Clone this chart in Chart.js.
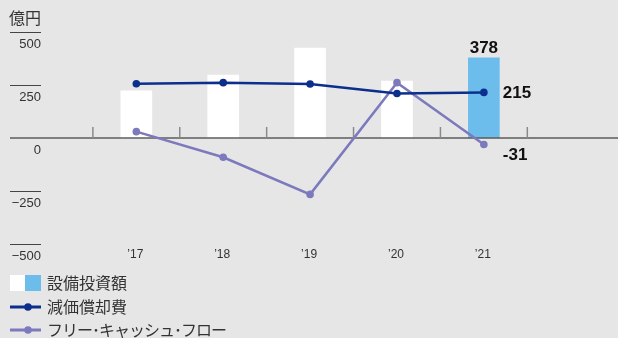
<!DOCTYPE html>
<html>
<head>
<meta charset="utf-8">
<script src="https://cdn.jsdelivr.net/npm/chart.js@4.4.1/dist/chart.umd.min.js"></script>
<style>
  html, body { margin: 0; padding: 0; background: #e6e6e6; }
  #wrap { width: 618px; height: 338px; position: relative; }
  canvas { display: block; }
</style>
</head>
<body>
<div id="wrap"><canvas id="c" width="618" height="338"></canvas></div>
<script>
// ---- data ----
const years = ['’17', '’18', '’19', '’20', '’21'];
const capex = [222, 297, 424, 269, 378];          // 設備投資額
const depreciation = [256, 261, 255, 210, 215];   // 減価償却費
const freeCashFlow = [30, -91, -266, 261, -31];   // フリー・キャッシュ・フロー
const yTicks = [500, 250, 0, -250, -500];
const yTickLabels = ['500', '250', '0', '−250', '−500'];
const unitLabel = '億円';
const legendLabels = ['設備投資額', '減価償却費', 'フリー･キャッシュ･フロー'];

// ---- build ----
const labels = ['', ...years, ''];
const pad = arr => [null, ...arr, null];
const lastIdx = years.length; // index of '21 within padded labels

const WHITE = '#ffffff', BLUE = '#6cbdec', NAVY = '#0c2f8e', PURPLE = '#7c7abd';
const TXT = '#333333';
const LATIN = '"Liberation Sans", Arial, sans-serif';
const CJK = '"Noto Sans CJK JP", "Noto Sans", sans-serif';

function line(ctx, x1, y1, x2, y2) { ctx.beginPath(); ctx.moveTo(x1, y1); ctx.lineTo(x2, y2); ctx.stroke(); }

const deco = {
  id: 'deco',
  beforeDatasetsDraw(chart) {
    const { ctx, scales: { x, y } } = chart;
    ctx.save();
    ctx.font = '13px ' + LATIN;
    ctx.fillStyle = TXT;
    ctx.textAlign = 'right';
    ctx.textBaseline = 'middle';
    yTicks.forEach((v, i) => {
      const py = y.getPixelForValue(v);
      if (v !== 0) {
        ctx.strokeStyle = '#444';
        ctx.lineWidth = 1;
        line(ctx, 10, Math.round(py) + 0.5, 41, Math.round(py) + 0.5);
      }
      ctx.fillText(yTickLabels[i], 41, py + 12);
    });
    ctx.font = '16px ' + CJK;
    ctx.textAlign = 'left';
    ctx.fillText(unitLabel, 9, 18);
    ctx.font = '12px ' + LATIN;
    ctx.textAlign = 'center';
    years.forEach((lab, i) => {
      ctx.fillText(lab, x.getPixelForValue(i + 1) - 1, 255);
    });
    ctx.restore();
  },
  afterDatasetDraw(chart, args) {
    if (args.meta.type !== 'bar') return;
    const { ctx, scales: { x, y } } = chart;
    const y0 = y.getPixelForValue(0);
    ctx.save();
    ctx.strokeStyle = '#5c5c5c';
    ctx.lineWidth = 1.6;
    line(ctx, 10, y0, 618, y0);
    ctx.strokeStyle = '#8a8a8a';
    ctx.lineWidth = 1.5;
    for (let i = 1; i < labels.length; i++) {
      const bx = (x.getPixelForValue(i - 1) + x.getPixelForValue(i)) / 2;
      line(ctx, bx, y0 - 11, bx, y0);
    }
    ctx.restore();
  },
  afterDatasetsDraw(chart) {
    const { ctx } = chart;
    ctx.save();
    ctx.font = 'bold 17px ' + LATIN;
    ctx.fillStyle = '#111';
    const bar = chart.getDatasetMeta(0).data[lastIdx];
    ctx.textAlign = 'center';
    ctx.textBaseline = 'alphabetic';
    ctx.fillText(String(capex[capex.length - 1]), bar.x, bar.y - 5);
    const dep = chart.getDatasetMeta(2).data[lastIdx];
    ctx.textAlign = 'left';
    ctx.textBaseline = 'middle';
    ctx.fillText(String(depreciation[depreciation.length - 1]), dep.x + 19, dep.y + 1);
    const fcf = chart.getDatasetMeta(1).data[lastIdx];
    ctx.fillText(String(freeCashFlow[freeCashFlow.length - 1]), fcf.x + 19, fcf.y + 11);

    // legend
    const lx = 10;
    const rows = [283, 307, 330];
    ctx.fillStyle = WHITE; ctx.fillRect(lx, 275, 15, 16);
    ctx.fillStyle = BLUE; ctx.fillRect(lx + 15, 275, 16, 16);
    ctx.lineWidth = 3;
    ctx.strokeStyle = NAVY; line(ctx, lx, rows[1], lx + 31, rows[1]);
    ctx.fillStyle = NAVY; ctx.beginPath(); ctx.arc(lx + 18, rows[1], 3.8, 0, Math.PI * 2); ctx.fill();
    ctx.strokeStyle = PURPLE; line(ctx, lx, rows[2], lx + 31, rows[2]);
    ctx.fillStyle = PURPLE; ctx.beginPath(); ctx.arc(lx + 18, rows[2], 3.8, 0, Math.PI * 2); ctx.fill();
    ctx.font = '16px ' + CJK;
    ctx.fillStyle = TXT;
    ctx.textAlign = 'left';
    ctx.textBaseline = 'middle';
    legendLabels.forEach((t, i) => {
      ctx.letterSpacing = i === 2 ? '-1px' : '0px';
      ctx.fillText(t, 47, rows[i]);
    });
    ctx.letterSpacing = '0px';
    ctx.restore();
  }
};

new Chart(document.getElementById('c'), {
  type: 'bar',
  data: {
    labels: labels,
    datasets: [
      {
        type: 'bar',
        label: legendLabels[0],
        data: pad(capex),
        backgroundColor: labels.map((_, i) => i === lastIdx ? BLUE : WHITE),
        borderWidth: 0,
        barThickness: 31,
        order: 3
      },
      {
        type: 'line',
        label: legendLabels[2],
        data: pad(freeCashFlow),
        borderColor: PURPLE,
        backgroundColor: PURPLE,
        borderWidth: 2.5,
        pointRadius: 3.8,
        pointHoverRadius: 3.8,
        pointBorderWidth: 0,
        tension: 0,
        order: 2
      },
      {
        type: 'line',
        label: legendLabels[1],
        data: pad(depreciation),
        borderColor: NAVY,
        backgroundColor: NAVY,
        borderWidth: 2.5,
        pointRadius: 3.8,
        pointHoverRadius: 3.8,
        pointBorderWidth: 0,
        tension: 0,
        order: 1
      }
    ]
  },
  options: {
    responsive: false,
    animation: false,
    events: [],
    layout: { padding: { left: 6, right: 0, top: 32, bottom: 94 } },
    plugins: { legend: { display: false }, tooltip: { enabled: false } },
    scales: {
      x: { display: false, offset: true },
      y: { display: false, min: -500, max: 500 }
    }
  },
  plugins: [deco]
});
</script>
</body>
</html>
